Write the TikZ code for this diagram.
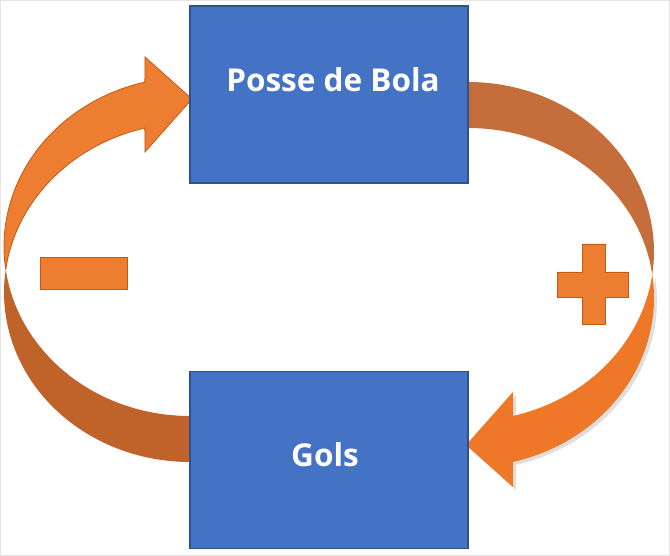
\documentclass[tikz,border=0pt]{standalone}
\usepackage{fontspec}
\setmainfont{Open Sans}
\definecolor{boxblue}{HTML}{4472C4}
\definecolor{boxedge}{HTML}{2F528F}
\definecolor{orfront}{HTML}{ED7D31}
\definecolor{orbackL}{HTML}{C0632A}
\definecolor{orbackR}{HTML}{C56E3C}
\definecolor{orfrontR}{HTML}{EF7828}
\definecolor{oredge}{HTML}{C55A11}
\tikzset{
  box/.style={draw=boxedge, line width=1.2pt, fill=boxblue, minimum width=278pt, minimum height=177pt, inner sep=0pt},
  boxtext/.style={text=white, font=\bfseries\fontsize{31.5}{38}\selectfont, anchor=base, inner sep=0pt},
  sign/.style={fill=orfront, draw=oredge, line width=0.9pt},
}
\begin{document}
\begin{tikzpicture}[x=1pt,y=1pt]
\useasboundingbox (0,0) rectangle (670,556);
\draw[gray!20, line width=1pt] (0.5,0.5) rectangle (669.5,555.5);
% left arrow (back part, then front part)
\def\arrowback{([shift={(190,263.5)}]172.2:186 and 169.5) arc[start angle=172.2, end angle=270, x radius=186, y radius=169.5] -- ([shift={(190,309.5)}]270:186 and 169.5) arc[start angle=270, end angle=187.8, x radius=186, y radius=169.5] -- cycle}
\def\arrowfront{([shift={(190,309.5)}]187.8:186 and 169.5) arc[start angle=187.8, end angle=104.04, x radius=186, y radius=169.5] -- (145,499) -- (192,457) -- (145,404) -- ([shift={(190,263.5)}]104.04:186 and 169.5) arc[start angle=104.04, end angle=172.2, x radius=186, y radius=169.5] -- cycle}
\fill[orbackL] \arrowback;
\filldraw[fill=orfront, draw=oredge, line width=0.8pt] \arrowfront;
% right arrow: the left one turned half round
\begin{scope}[rotate around={180:(329,284)}]
\fill[black!25, opacity=0.5, shift={(-3,3)}] \arrowfront;
\fill[orbackR] \arrowback;
\fill[orfrontR] \arrowfront;
\end{scope}
% boxes
\node[box] (posse) at (329,461.5) {};
\node[box] (gols) at (329,96) {};
\node[boxtext] (posset) at (333,464) {Posse de Bola};
\node[boxtext] (golst) at (325,89) {Gols};
% signs
\node[sign, minimum width=87pt, minimum height=32pt, inner sep=0pt] (minus) at (83.5,283) {};
\filldraw[sign] (582,312) -- (605,312) -- (605,284) -- (628,284) -- (628,259) -- (605,259) -- (605,232) -- (582,232) -- (582,259) -- (557,259) -- (557,284) -- (582,284) -- cycle;
\end{tikzpicture}
\end{document}
